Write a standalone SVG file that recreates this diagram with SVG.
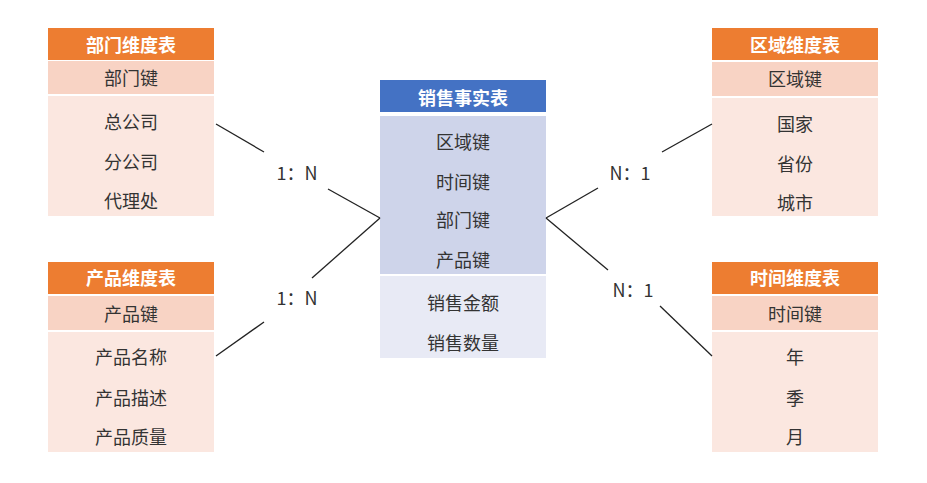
<svg xmlns="http://www.w3.org/2000/svg" width="927" height="483" viewBox="0 0 927 483">
<style>
text{font-family:"Noto Sans CJK SC","Noto Sans",sans-serif;font-size:18px;fill:#333;text-anchor:middle;dominant-baseline:central}
.h{fill:#fff;font-weight:bold}
.oh{fill:#ED7D31}.ok{fill:#F8D3C4}.ob{fill:#FBE7E0}
.bh{fill:#4472C4}.b1{fill:#CED4EA}.b2{fill:#E8EAF5}
line{stroke:#222;stroke-width:1.3}
</style>
<g id="dept">
<rect class="oh" x="48" y="28" width="166" height="32"/><rect class="ok" x="48" y="61" width="166" height="33"/><rect class="ob" x="48" y="96" width="166" height="120"/>
<text class="h" x="131" y="44">部门维度表</text><text x="131" y="77">部门键</text><text x="131" y="121">总公司</text><text x="131" y="161">分公司</text><text x="131" y="200">代理处</text>
</g>
<g id="product">
<rect class="oh" x="48" y="262" width="166" height="32"/><rect class="ok" x="48" y="296" width="166" height="34"/><rect class="ob" x="48" y="332" width="166" height="120"/>
<text class="h" x="131" y="277">产品维度表</text><text x="131" y="313">产品键</text><text x="131" y="356">产品名称</text><text x="131" y="397">产品描述</text><text x="131" y="436">产品质量</text>
</g>
<g id="region">
<rect class="oh" x="712" y="28" width="166" height="32"/><rect class="ok" x="712" y="62" width="166" height="34"/><rect class="ob" x="712" y="98" width="166" height="118"/>
<text class="h" x="795" y="44">区域维度表</text><text x="795" y="78">区域键</text><text x="795" y="123">国家</text><text x="795" y="163">省份</text><text x="795" y="202">城市</text>
</g>
<g id="time">
<rect class="oh" x="712" y="262" width="166" height="32"/><rect class="ok" x="712" y="296" width="166" height="34"/><rect class="ob" x="712" y="332" width="166" height="120"/>
<text class="h" x="795" y="277">时间维度表</text><text x="795" y="313">时间键</text><text x="795" y="356">年</text><text x="795" y="397">季</text><text x="795" y="436">月</text>
</g>
<g id="fact">
<rect class="bh" x="380" y="80" width="166" height="32"/><rect class="b1" x="380" y="116" width="166" height="158"/><rect class="b2" x="380" y="276" width="166" height="82"/>
<text class="h" x="463" y="97">销售事实表</text><text x="463" y="141">区域键</text><text x="463" y="181">时间键</text><text x="463" y="219">部门键</text><text x="463" y="259">产品键</text><text x="463" y="302">销售金额</text><text x="463" y="342">销售数量</text>
</g>
<g id="connectors">
<line x1="216" y1="124" x2="264" y2="152"/><line x1="328" y1="189" x2="380" y2="218"/>
<line x1="216" y1="356" x2="264" y2="322"/><line x1="312" y1="278" x2="380" y2="218"/>
<line x1="546" y1="218" x2="598" y2="188"/><line x1="662" y1="152" x2="712" y2="124"/>
<line x1="546" y1="218" x2="608" y2="270"/><line x1="660" y1="306" x2="712" y2="356"/>
<text x="297" y="172">1：N</text><text x="297" y="297">1：N</text><text x="630" y="172">N：1</text><text x="633" y="289">N：1</text>
</g>
</svg>
